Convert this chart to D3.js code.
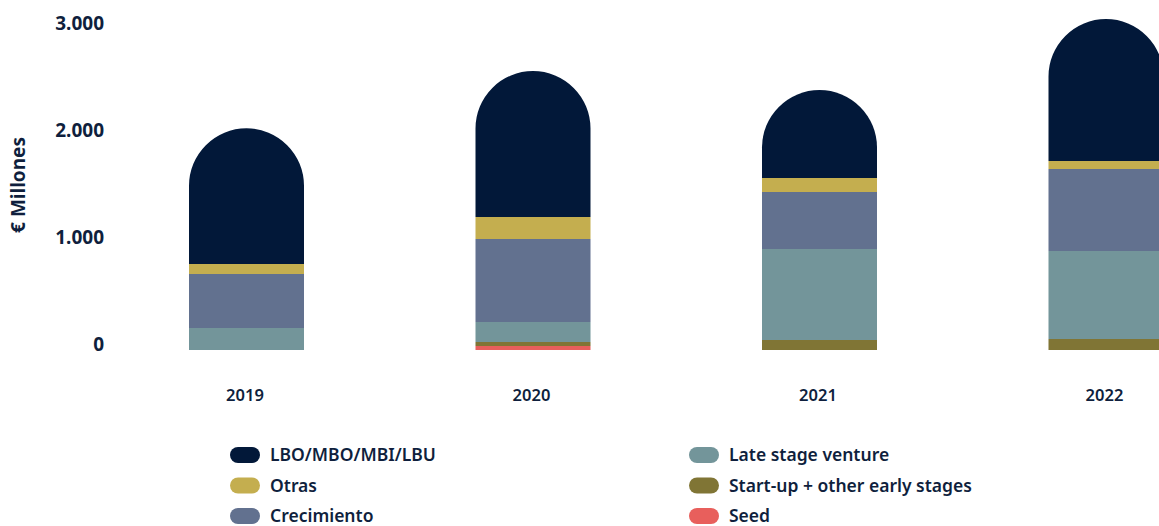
<!DOCTYPE html>
<html>
<head>
<meta charset="utf-8">
<script src="https://cdn.jsdelivr.net/npm/d3@7"></script>
<style>
  html, body { margin: 0; padding: 0; background: #fff; }
  svg { display: block; font-family: "Noto Sans", Roboto, sans-serif; }
</style>
</head>
<body>
<svg id="chart" width="1159" height="526"></svg>
<script>
// Investment volume by stage (€ millions)
const years = ["2019", "2020", "2021", "2022"];
const seed = [0, 37, 0, 0];
const startUp = [0, 37, 93, 103];
const lateStage = [206, 187, 850, 822];
const crecimiento = [505, 776, 533, 766];
const otras = [93, 206, 131, 75];
const lbo = [1268, 1364, 822, 1327];
const yTicks = [0, 1000, 2000, 3000];

const seriesNames = ["Seed", "Start-up + other early stages", "Late stage venture", "Crecimiento", "Otras", "LBO/MBO/MBI/LBU"];
const seriesValues = [seed, startUp, lateStage, crecimiento, otras, lbo];
const seriesColors = ["#e85f5c", "#807535", "#73959a", "#62718f", "#c4ae4f", "#021839"];

const textColor = "#0f1f3d";
const svg = d3.select("#chart");

// bar centres sit on a regular step; bars are pill-topped columns
const step = 286.5, firstCenter = 246.5, barW = 115;
const xc = d3.scalePoint().domain(years).range([firstCenter, firstCenter + step * (years.length - 1)]);
const y = d3.scaleLinear().domain([0, 3000]).range([350, 29]);

const fmt = d3.formatLocale({ decimal: ",", thousands: ".", grouping: [3], currency: ["", "€"] }).format(",.0f");

// y axis labels (baseline on the value)
const yAxis = d3.axisLeft(y).tickValues(yTicks).tickFormat(fmt).tickSize(0).tickPadding(0);
const gy = svg.append("g").attr("transform", "translate(104,0)").call(yAxis);
gy.select(".domain").remove();
gy.selectAll("text")
  .attr("dy", "0")
  .attr("fill", textColor)
  .attr("font-size", 19)
  .attr("font-weight", 700)
  .attr("font-family", "'Noto Sans', sans-serif");

svg.append("text")
  .attr("transform", "translate(25,185) rotate(-90)")
  .attr("text-anchor", "middle")
  .attr("fill", textColor)
  .attr("font-size", 19)
  .attr("font-weight", 700)
  .text("€ Millones");

// stacked bars
const table = years.map((yr, i) => {
  const row = { year: yr };
  seriesNames.forEach((n, k) => row[n] = seriesValues[k][i]);
  return row;
});
const stacked = d3.stack().keys(seriesNames)(table);

stacked.forEach((layer, k) => {
  const isTop = k === stacked.length - 1;
  svg.append("g").attr("fill", seriesColors[k])
    .selectAll("path").data(layer).join("path")
    .attr("d", d => {
      const cx = xc(d.data.year);
      const x0 = cx - barW / 2, x1 = cx + barW / 2;
      const yb = y(d[0]), yt = y(d[1]);
      if (!isTop) return `M${x0},${yb}V${yt}H${x1}V${yb}Z`;
      const r = barW / 2;
      return `M${x0},${yb}V${yt + r}A${r},${r} 0 0 1 ${x1},${yt + r}V${yb}Z`;
    });
});

// year labels
svg.append("g").selectAll("text").data(years).join("text")
  .attr("x", d => xc(d) - 1.5)
  .attr("y", 401)
  .attr("text-anchor", "middle")
  .attr("fill", textColor)
  .attr("font-size", 16.5)
  .attr("font-weight", 600)
  .text(d => d);

// legend
const legendOrder = [
  { name: "LBO/MBO/MBI/LBU", col: 0, row: 0 },
  { name: "Otras", col: 0, row: 1 },
  { name: "Crecimiento", col: 0, row: 2 },
  { name: "Late stage venture", col: 1, row: 0 },
  { name: "Start-up + other early stages", col: 1, row: 1 },
  { name: "Seed", col: 1, row: 2 }
];
const colX = [230, 689];
const leg = svg.append("g").selectAll("g").data(legendOrder).join("g")
  .attr("transform", d => `translate(${colX[d.col]},${455 + d.row * 30.5})`);
leg.append("rect")
  .attr("x", 0).attr("y", -8).attr("width", 30).attr("height", 16)
  .attr("rx", 8).attr("ry", 8)
  .attr("fill", d => seriesColors[seriesNames.indexOf(d.name)]);
leg.append("text")
  .attr("x", 40).attr("y", 6)
  .attr("fill", textColor)
  .attr("font-size", 17.5)
  .attr("font-weight", 600)
  .text(d => d.name);
</script>
</body>
</html>
